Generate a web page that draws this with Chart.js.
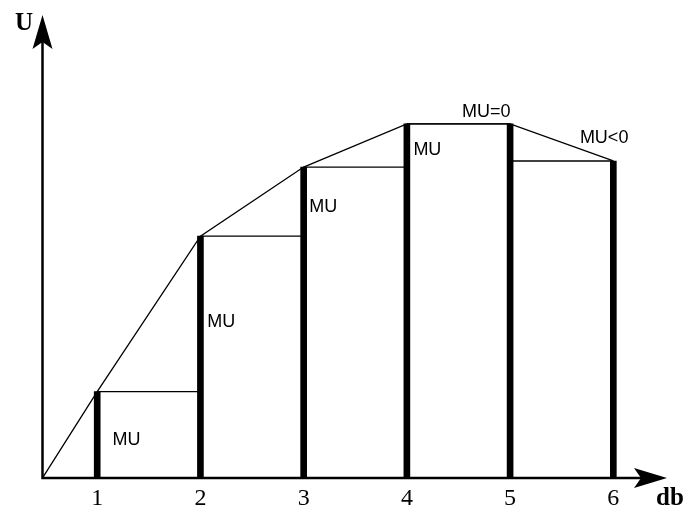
<!DOCTYPE html>
<html lang="en">
<head>
<meta charset="UTF-8">
<title>Total and marginal utility</title>
<script src="https://cdn.jsdelivr.net/npm/chart.js"></script>
<style>
    body { margin: 0; background: #fff; }
    #wrap { width: 688px; height: 511px; }
</style>
</head>
<body>
<div id="wrap"><canvas id="grafico"></canvas></div>

<script>
    // units consumed (db) and the total utility reached at each one
    const unidades = [1, 2, 3, 4, 5, 6];
    const utilidade = [10, 28, 36, 41, 41, 36.7];
    const tickLabels = ['1', '2', '3', '4', '5', '6'];

    // axis range
    const origemX = 0.47;
    const maxX = 6.52;
    const maxY = 53.6;

    // MU notes: text, anchor (data units), alignment
    const notas = [
        { texto: 'MU', x: 1.149, y: 3.8, align: 'left' },
        { texto: 'MU', x: 2.066, y: 17.45, align: 'left' },
        { texto: 'MU', x: 3.055, y: 30.8, align: 'left' },
        { texto: 'MU', x: 4.063, y: 37.4, align: 'left' },
        { texto: 'MU=0', x: 4.77, y: 41.8, align: 'center' },
        { texto: 'MU<0', x: 5.911, y: 38.8, align: 'center' }
    ];

    // total utility curve starts at the origin
    const curva = [{ x: origemX, y: 0 }].concat(unidades.map((u, i) => ({ x: u, y: utilidade[i] })));

    // horizontal steps between consecutive bars (null breaks the line)
    const degraus = [];
    for (let i = 0; i < unidades.length - 1; i++) {
        const nivel = Math.min(utilidade[i], utilidade[i + 1]);
        degraus.push({ x: unidades[i], y: nivel }, { x: unidades[i + 1], y: nivel }, { x: unidades[i + 1], y: null });
    }

    const barras = unidades.map((u, i) => ({ x: u, y: utilidade[i] }));

    // axes with arrow heads, axis names and MU notes
    const eixos = {
        id: 'eixos',
        afterDatasetsDraw(chart) {
            const { ctx, chartArea, scales: { x, y } } = chart;
            const x0 = x.getPixelForValue(origemX);
            const y0 = y.getPixelForValue(0);
            const topo = chartArea.top;
            const dir = chartArea.right;

            ctx.save();
            ctx.strokeStyle = '#000';
            ctx.fillStyle = '#000';
            ctx.lineWidth = 2.5;
            ctx.beginPath();
            ctx.moveTo(x0, y0);
            ctx.lineTo(dir - 24, y0);
            ctx.moveTo(x0, y0 + 1.2);
            ctx.lineTo(x0, topo + 24);
            ctx.stroke();

            ctx.beginPath();
            ctx.moveTo(x0, topo);
            ctx.lineTo(x0 - 10, topo + 34);
            ctx.lineTo(x0, topo + 27);
            ctx.lineTo(x0 + 10, topo + 34);
            ctx.closePath();
            ctx.fill();

            ctx.beginPath();
            ctx.moveTo(dir, y0);
            ctx.lineTo(dir - 33, y0 - 10);
            ctx.lineTo(dir - 26, y0);
            ctx.lineTo(dir - 33, y0 + 10);
            ctx.closePath();
            ctx.fill();

            ctx.font = 'bold 25px "Liberation Serif", "Times New Roman", serif';
            ctx.textAlign = 'left';
            ctx.textBaseline = 'alphabetic';
            ctx.fillText('U', x0 - 27.5, topo + 15);
            ctx.fillText('db', dir - 11, y0 + 27);

            ctx.font = '18px "Liberation Sans", Arial, sans-serif';
            notas.forEach(n => {
                ctx.textAlign = n.align;
                ctx.fillText(n.texto, x.getPixelForValue(n.x), y.getPixelForValue(n.y));
            });
            ctx.restore();
        }
    };

    new Chart(document.getElementById('grafico'), {
        type: 'bar',
        data: {
            datasets: [
                {
                    type: 'line',
                    data: curva,
                    borderColor: '#000',
                    borderWidth: 1.3,
                    pointRadius: 0,
                    tension: 0
                },
                {
                    type: 'line',
                    data: degraus,
                    borderColor: '#000',
                    borderWidth: 1.3,
                    pointRadius: 0,
                    spanGaps: false
                },
                {
                    type: 'bar',
                    data: barras,
                    backgroundColor: '#000',
                    borderWidth: 0,
                    barThickness: 6
                }
            ]
        },
        options: {
            responsive: true,
            maintainAspectRatio: false,
            animation: false,
            devicePixelRatio: 1,
            layout: { padding: { top: 15, left: 42.5, right: 21, bottom: 0 } },
            plugins: {
                legend: { display: false },
                tooltip: { enabled: false }
            },
            scales: {
                x: {
                    type: 'linear',
                    min: origemX,
                    max: maxX,
                    offset: false,
                    grid: { display: false, drawTicks: false },
                    border: { display: false },
                    afterBuildTicks: s => { s.ticks = unidades.map(v => ({ value: v })); },
                    afterFit: s => { s.height = 33; },
                    ticks: {
                        color: '#000',
                        padding: 6,
                        maxRotation: 0,
                        autoSkip: false,
                        font: { family: '"Liberation Serif", "Times New Roman", serif', size: 24 },
                        callback: (v, i) => tickLabels[i]
                    }
                },
                y: {
                    type: 'linear',
                    min: 0,
                    max: maxY,
                    display: false
                }
            }
        },
        plugins: [eixos]
    });
</script>
</body>
</html>
